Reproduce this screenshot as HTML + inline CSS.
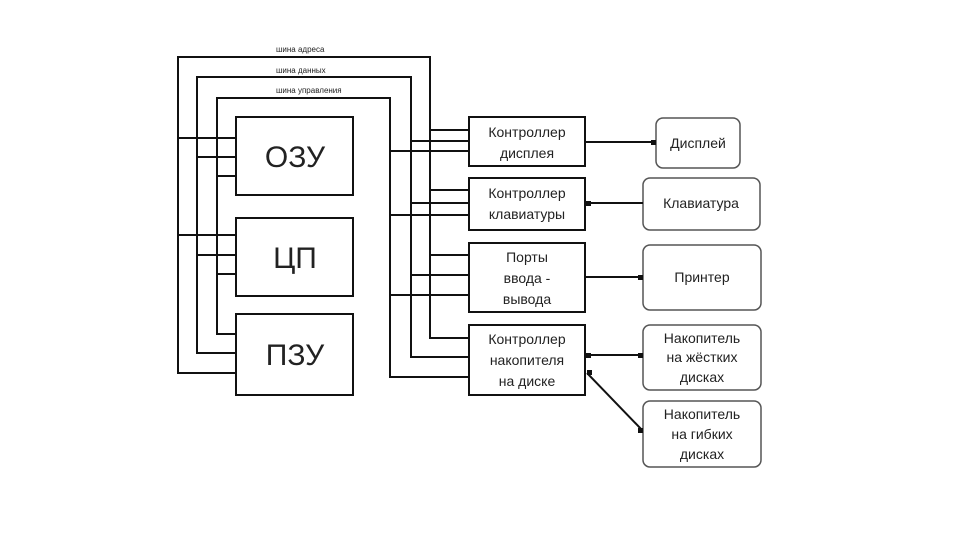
<!DOCTYPE html>
<html><head><meta charset="utf-8"><style>
html,body{margin:0;padding:0;background:#fff;}
svg{display:block;}
text{font-family:"Liberation Sans",sans-serif;fill:#222;}
</style></head><body>
<svg width="960" height="540" xmlns="http://www.w3.org/2000/svg">
<g fill="none" stroke="#111" stroke-width="2">
<!-- address bus -->
<polyline points="236,373 178,373 178,57 430,57 430,338 469,338"/>
<!-- data bus -->
<polyline points="236,353 197,353 197,77 411,77 411,357 469,357"/>
<!-- control bus -->
<polyline points="236,334 217,334 217,98 390,98 390,377 469,377"/>
<!-- left taps -->
<line x1="178" y1="138" x2="236" y2="138"/>
<line x1="197" y1="157" x2="236" y2="157"/>
<line x1="217" y1="176" x2="236" y2="176"/>
<line x1="178" y1="235" x2="236" y2="235"/>
<line x1="197" y1="255" x2="236" y2="255"/>
<line x1="217" y1="274" x2="236" y2="274"/>
<!-- right taps -->
<line x1="430" y1="130" x2="469" y2="130"/>
<line x1="411" y1="141" x2="469" y2="141"/>
<line x1="390" y1="151" x2="469" y2="151"/>
<line x1="430" y1="190" x2="469" y2="190"/>
<line x1="411" y1="203" x2="469" y2="203"/>
<line x1="390" y1="215" x2="469" y2="215"/>
<line x1="430" y1="255" x2="469" y2="255"/>
<line x1="411" y1="275" x2="469" y2="275"/>
<line x1="390" y1="295" x2="469" y2="295"/>
<!-- main boxes -->
<rect x="236" y="117" width="117" height="78"/>
<rect x="236" y="218" width="117" height="78"/>
<rect x="236" y="314" width="117" height="81"/>
<rect x="469" y="117" width="116" height="49"/>
<rect x="469" y="178" width="116" height="52"/>
<rect x="469" y="243" width="116" height="69"/>
<rect x="469" y="325" width="116" height="70"/>
</g>
<g fill="none" stroke="#555" stroke-width="1.5">
<rect x="656" y="118" width="84" height="50" rx="7"/>
<rect x="643" y="178" width="117" height="52" rx="7"/>
<rect x="643" y="245" width="118" height="65" rx="7"/>
<rect x="643" y="325" width="118" height="65" rx="7"/>
<rect x="643" y="401" width="118" height="66" rx="7"/>
</g>
<g stroke="#111" stroke-width="2">
<line x1="585" y1="142" x2="656" y2="142"/>
<line x1="585" y1="203" x2="643" y2="203"/>
<line x1="585" y1="277" x2="643" y2="277"/>
<line x1="585" y1="355" x2="643" y2="355"/>
<line x1="587" y1="373" x2="642" y2="430"/>
</g>
<g fill="#111">
<rect x="651" y="140" width="5" height="5"/>
<rect x="586" y="201" width="5" height="5"/>
<rect x="638" y="275" width="5" height="5"/>
<rect x="586" y="353" width="5" height="5"/>
<rect x="638" y="353" width="5" height="5"/>
<rect x="587" y="370" width="5" height="5"/>
<rect x="638" y="428" width="5" height="5"/>
</g>
<g font-size="8" fill="#444">
<text x="276" y="52">шина адреса</text>
<text x="276" y="73">шина данных</text>
<text x="276" y="93">шина управления</text>
</g>
<g font-size="30" text-anchor="middle">
<text x="295" y="167">ОЗУ</text>
<text x="295" y="268">ЦП</text>
<text x="295" y="365">ПЗУ</text>
</g>
<g font-size="14" text-anchor="middle" fill="#333">
<text x="527" y="137">Контроллер</text>
<text x="527" y="158">дисплея</text>
<text x="527" y="198">Контроллер</text>
<text x="527" y="219">клавиатуры</text>
<text x="527" y="262">Порты</text>
<text x="527" y="283">ввода -</text>
<text x="527" y="304">вывода</text>
<text x="527" y="344">Контроллер</text>
<text x="527" y="365">накопителя</text>
<text x="527" y="386">на диске</text>
<text x="698" y="148">Дисплей</text>
<text x="701" y="208">Клавиатура</text>
<text x="702" y="282">Принтер</text>
<text x="702" y="343">Накопитель</text>
<text x="702" y="362">на жёстких</text>
<text x="702" y="382">дисках</text>
<text x="702" y="419">Накопитель</text>
<text x="702" y="439">на гибких</text>
<text x="702" y="459">дисках</text>
</g>
</svg>
</body></html>
